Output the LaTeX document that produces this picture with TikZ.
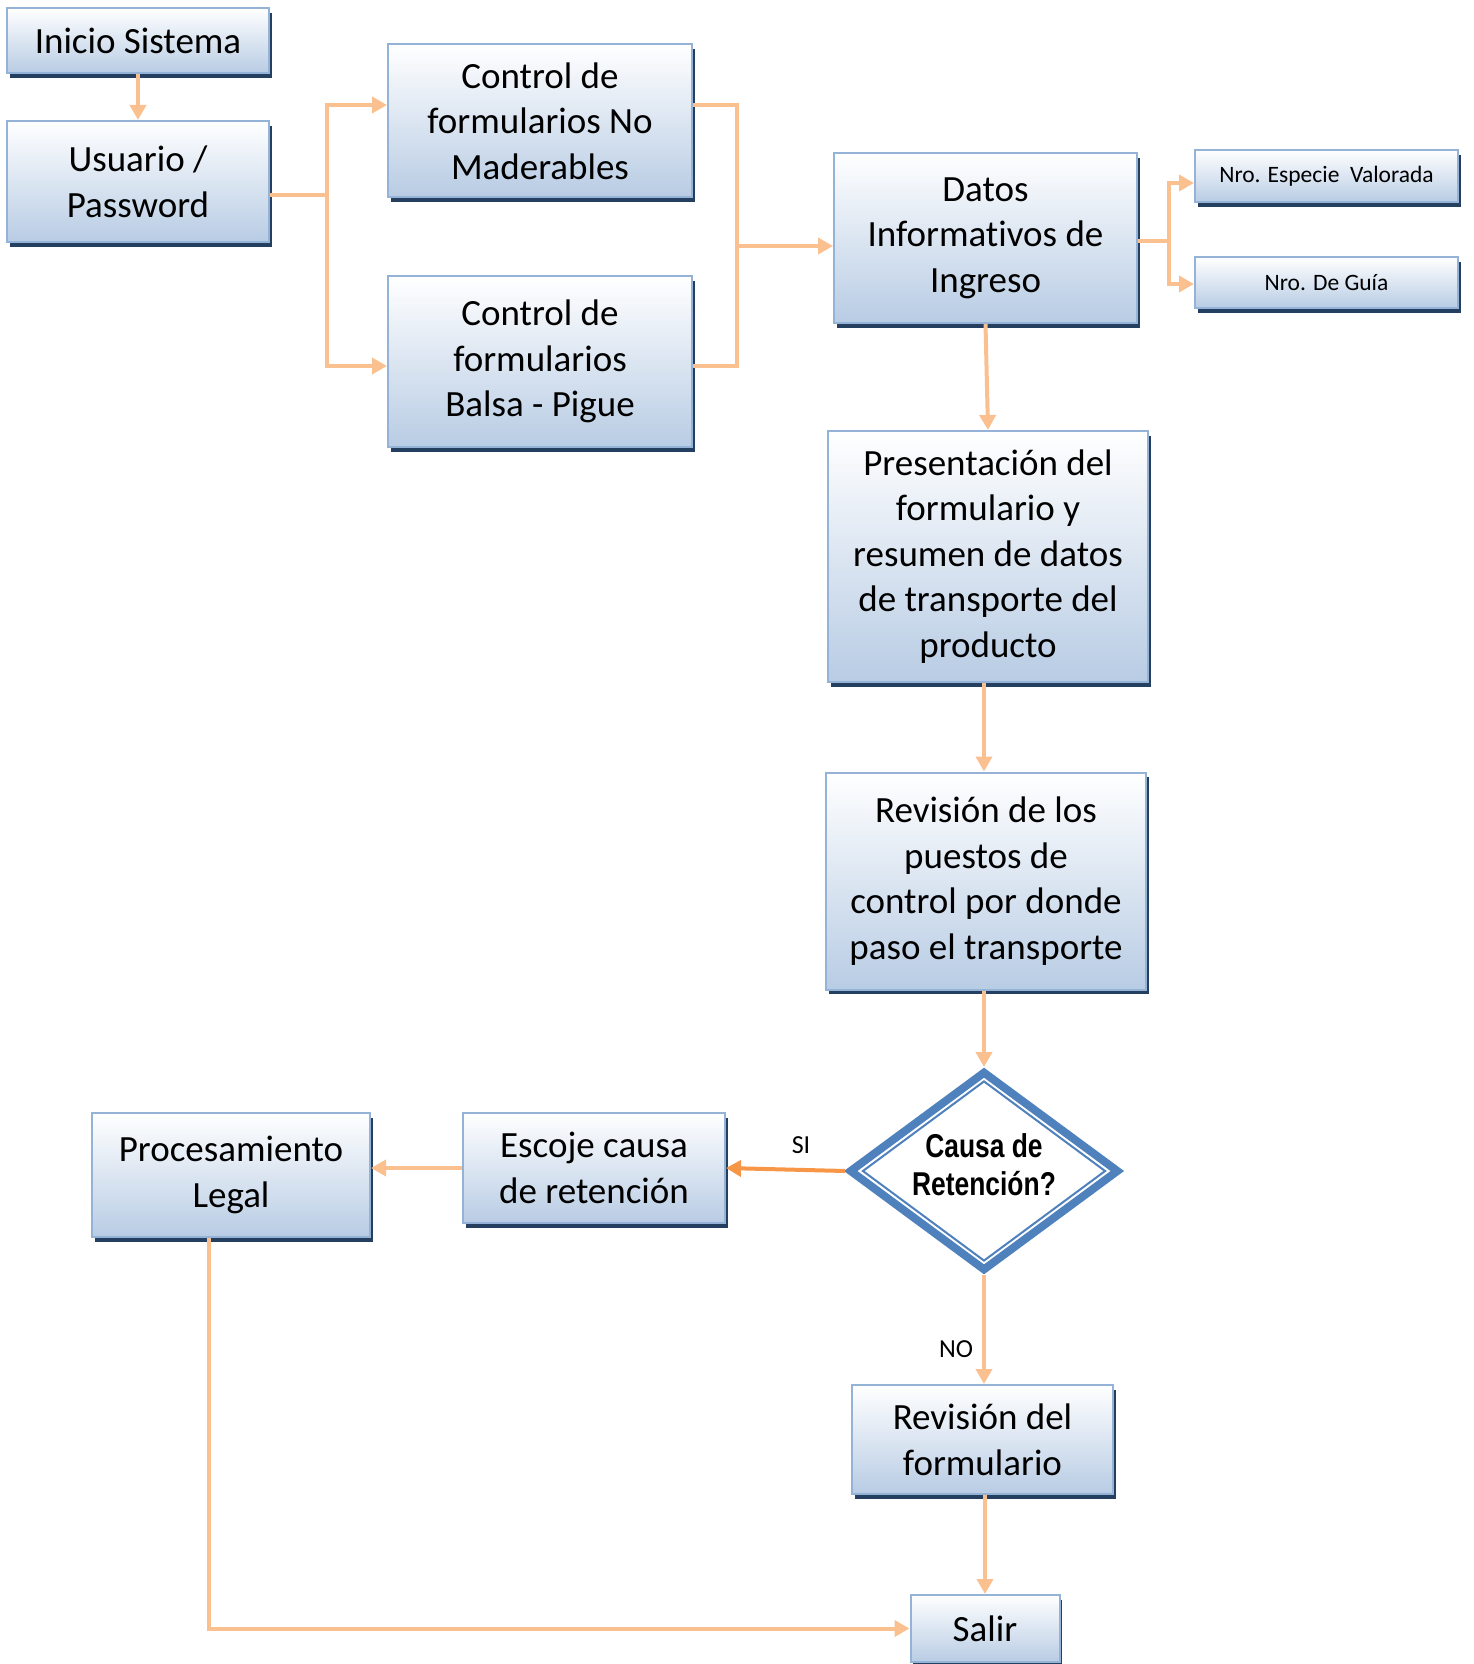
\documentclass[tikz,border=0pt]{standalone}
\usepackage{fontspec}
\setmainfont{Carlito}[Ligatures=NoCommon]
\newfontfamily\diafont[FakeStretch=0.8]{Liberation Sans}
\usetikzlibrary{shapes.geometric,arrows.meta,shadows}
\definecolor{lineor}{HTML}{FAC090}
\definecolor{darkor}{HTML}{F79646}
\definecolor{boxbd}{HTML}{95B3D7}
\definecolor{boxbot}{HTML}{B8CCE4}
\definecolor{shad}{HTML}{243F60}
\definecolor{diab}{HTML}{4F81BD}
\begin{document}
\begin{tikzpicture}[x=0.5pt,y=-0.5pt,
  box/.style={rectangle, draw=boxbd, line width=1pt, top color=white, bottom color=boxbot,
    general shadow={fill=shad, shadow xshift=1.3pt, shadow yshift=-2.4pt},
    inner sep=0pt, align=center, text=black, font=\fontsize{18.5}{22.8}\selectfont},
  smallbox/.style={box, font=\fontsize{11.75}{14}\selectfont},
  ln/.style={draw=lineor, line width=2pt},
  conn/.style={ln, -{Triangle[length=7.5pt,width=8pt]}},
  darkconn/.style={draw=darkor, line width=2pt, -{Triangle[length=7.5pt,width=8pt]}},
  lbl/.style={font=\fontsize{13}{15}\selectfont, inner sep=0pt}
]
\useasboundingbox (0,0) rectangle (1473,1664);

% nodes
\node[box, minimum width=131pt, minimum height=32.5pt] (inicio) at (138,40.5) {Inicio Sistema};
\node[box, minimum width=131pt, minimum height=60.5pt] (usuario) at (138,181.5) {Usuario /\\Password};
\node[box, minimum width=152pt, minimum height=76.5pt] (ctrlA) at (540,121) {Control de\\formularios No\\Maderables};
\node[box, minimum width=152pt, minimum height=85.5pt] (ctrlB) at (540,361.5) {Control de\\formularios\\Balsa - Pigue};
\node[box, minimum width=151.5pt, minimum height=85pt] (datos) at (985.5,238) {Datos\\Informativos de\\Ingreso};
\node[smallbox, minimum width=131.5pt, minimum height=26pt] (especie) at (1326.5,176) {Nro. Especie\hspace{0.45em}Valorada};
\node[smallbox, minimum width=131.5pt, minimum height=25.5pt] (guia) at (1326.5,282.5) {Nro. De Guía};
\node[box, minimum width=160pt, minimum height=125.5pt] (present) at (988,556.5) {Presentación del\\formulario y\\resumen de datos\\de transporte del\\producto};
\node[box, minimum width=160pt, minimum height=108.5pt] (revision) at (986,881) {Revisión de los\\puestos de\\control por donde\\paso el transporte};
\node[diamond, draw=diab, line width=4pt, fill=white, minimum width=135pt, minimum height=100pt,
      inner sep=0pt] (dia) at (984,1171) {};
\node[diamond, draw=diab, line width=1pt, minimum width=121.5pt, minimum height=90pt, inner sep=0pt] (diain) at (dia.center) {};
\node[align=center, inner sep=0pt, font=\diafont\bfseries\fontsize{16.5}{19}\selectfont] (diatext) at ([yshift=3pt]dia.center) {Causa de\\Retención?};
\node[box, minimum width=131pt, minimum height=55pt] (escoje) at (594,1168) {Escoje causa\\de retención};
\node[box, minimum width=139pt, minimum height=62pt] (proces) at (231,1175) {Procesamiento\\Legal};
\node[box, minimum width=130.5pt, minimum height=54.5pt] (revform) at (982.5,1439.5) {Revisión del\\formulario};
\node[box, minimum width=74.5pt, minimum height=33.5pt] (salir) at (985,1628.5) {Salir};

% connectors
\draw[conn] (inicio.south) -- (usuario.north);

\coordinate (j1) at (327,195);
\draw[ln] (usuario.east |- j1) -- (j1);
\draw[conn] (j1) |- (ctrlA.west |- 0,105);
\draw[conn] (j1) |- (ctrlB.west |- 0,366);

\coordinate (j2) at (736.5,246);
\draw[ln] (ctrlA.east |- 0,105) -| (j2);
\draw[ln] (ctrlB.east |- 0,366) -| (j2);
\draw[conn] (j2) -- (datos.west |- j2);

\coordinate (j3) at (1169,241);
\draw[ln] (datos.east |- j3) -- (j3);
\draw[conn] (j3) |- (especie.west |- 0,183);
\draw[conn] (j3) |- (guia.west |- 0,284);

\draw[conn] (datos.south) -- (present.north);
\draw[conn] (present.south -| dia.north) -- (revision.north -| dia.north);
\draw[conn] (revision.south -| dia.north) -- (dia.north);
\draw[darkconn] (dia.west) -- (escoje.east);
\node[lbl] (si) at (801,1145) {SI};
\draw[conn] (escoje.west) -- (proces.east |- escoje.west);
\draw[conn] (dia.south) -- (dia.south |- revform.north);
\node[lbl] (no) at (956,1349) {NO};
\draw[conn] (revform.south -| salir.north) -- (salir.north);
\coordinate (j4) at (209,1627);
\draw[conn] (proces.south -| j4) |- (salir.west);
\end{tikzpicture}
\end{document}
